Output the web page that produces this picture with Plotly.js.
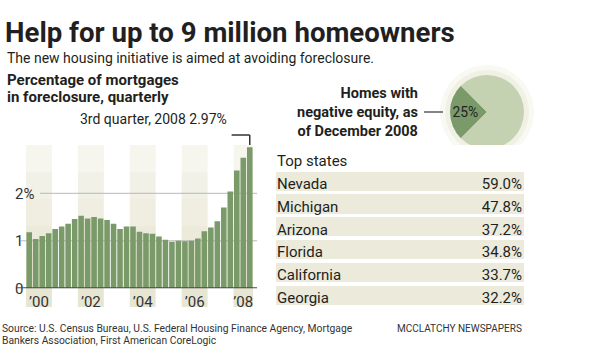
<!DOCTYPE html>
<html><head><meta charset="utf-8">
<script src="https://cdn.plot.ly/plotly-3.0.1.min.js"></script>
<style>html,body{margin:0;padding:0;background:#fff}#chart{width:600px;height:362px}</style>
</head><body><div id="chart"></div>
<script>
// ---- data ----
const quarterLabels = [
  '2000 Q1','2000 Q2','2000 Q3','2000 Q4',
  '2001 Q1','2001 Q2','2001 Q3','2001 Q4',
  '2002 Q1','2002 Q2','2002 Q3','2002 Q4',
  '2003 Q1','2003 Q2','2003 Q3','2003 Q4',
  '2004 Q1','2004 Q2','2004 Q3','2004 Q4',
  '2005 Q1','2005 Q2','2005 Q3','2005 Q4',
  '2006 Q1','2006 Q2','2006 Q3','2006 Q4',
  '2007 Q1','2007 Q2','2007 Q3','2007 Q4',
  '2008 Q1','2008 Q2','2008 Q3'
];
const foreclosurePct = [
  1.18,1.04,1.10,1.16,
  1.25,1.30,1.36,1.46,
  1.53,1.47,1.50,1.47,
  1.44,1.36,1.25,1.30,
  1.30,1.19,1.16,1.15,
  1.09,1.02,0.98,1.00,
  0.99,1.00,1.05,1.20,
  1.28,1.41,1.70,2.04,
  2.48,2.75,2.97
];
const tickYears = [2000,2002,2004,2006,2008];
const yearTickLabels = ['\u201900','\u201902','\u201904','\u201906','\u201908'];
const yTickVals = [0,1,2];
const yTickText = ['0','1','2%'];

const pieLabels = ['Negative equity','Other homes'];
const pieValues = [25,75];

const states = ['Nevada','Michigan','Arizona','Florida','California','Georgia'];
const statePct = [59.0,47.8,37.2,34.8,33.7,32.2];

// ---- helpers ----
const W=600,H=362;
const px = x => x/W, py = y => 1 - y/H;
const FONT = 'Roboto, "Open Sans", sans-serif';
const INK = '#231f20';
const GREEN = '#7a9a6a';

const idx = quarterLabels.map((_,i)=>i);
const yearOf = quarterLabels.map(q => +q.slice(0,4));
const yearIdx = y => idx.filter(i => yearOf[i] === y);
const tickvals = tickYears.map(y => { const a = yearIdx(y); return (a[0]+a[a.length-1])/2; });
const last = foreclosurePct.length - 1;
const lastQ = quarterLabels[last];
const ord = {'1':'1st','2':'2nd','3':'3rd','4':'4th'};
const calloutText = ord[lastQ.slice(-1)] + ' quarter, ' + lastQ.slice(0,4) + ' ' + foreclosurePct[last].toFixed(2) + '%';

// ---- shapes ----
const shapes = [];
const bandTop = 145, bandBot = 307, steps = 6;
const bandCols = ['#f6f5ee','#f2f1e7','#efeee1','#ecebdb','#e9e8d6','#e7e6d3'];
tickYears.forEach(y => {
  const a = yearIdx(y);
  for (let s=0;s<steps;s++){
    const t0 = bandTop + (bandBot-bandTop)*s/steps, t1 = bandTop + (bandBot-bandTop)*(s+1)/steps;
    shapes.push({type:'rect', xref:'x', yref:'paper', x0:a[0]-0.5, x1:a[a.length-1]+0.5,
      y0:py(t1), y1:py(t0), fillcolor:bandCols[s], line:{width:0}, layer:'below'});
  }
});
// gridlines
shapes.push({type:'line', xref:'x', yref:'y', x0:-1.3, x1:35.116, y0:1, y1:1, line:{color:'#b8b8b8', width:1}, layer:'below'});
shapes.push({type:'line', xref:'x', yref:'y', x0:1.66, x1:35.116, y0:2, y1:2, line:{color:'#b8b8b8', width:1}, layer:'below'});
// baseline
shapes.push({type:'line', xref:'x', yref:'y', x0:-1.9, x1:35.116, y0:0, y1:0, line:{color:'#4a4a4a', width:2}, layer:'above'});
// callout bracket
shapes.push({type:'line', xref:'x', yref:'paper', x0:last-2.8, x1:last, y0:py(135), y1:py(135), line:{color:'#333', width:1.5}});
shapes.push({type:'line', xref:'x', yref:'paper', x0:last, x1:last, y0:py(135), y1:py(145), line:{color:'#333', width:1.5}});
// pie halo
const pcx=487, pcy=112, pr=37;
[[10,'#f9f9f3'],[5,'#f1f0e4']].forEach(([d,c]) => shapes.push({type:'circle', xref:'paper', yref:'paper',
  x0:px(pcx-pr-d), x1:px(pcx+pr+d), y0:py(pcy+pr+d), y1:py(pcy-pr-d), fillcolor:c, line:{width:0}, layer:'below'}));
// pie leader
shapes.push({type:'line', xref:'paper', yref:'paper', x0:px(424), x1:px(443), y0:py(112), y1:py(112), line:{color:'#333', width:1.2}});

// ---- annotations ----
const ann = (text, x, y, size, opts={}) => Object.assign({text, x:px(x), y:py(y), xref:'paper', yref:'paper',
  xanchor:'left', yanchor:'middle', showarrow:false, font:{family:FONT, size, color:INK}}, opts);
const annotations = [
  ann('The new housing initiative is aimed at avoiding foreclosure.', 5, 57.5, 14),
  ann('<b>Percentage of mortgages</b>', 5, 80, 15),
  ann('<b>in foreclosure, quarterly</b>', 5, 97, 15),
  ann(calloutText, 229, 118.5, 14, {xanchor:'right'}),
  ann('<b>Homes with<br>negative equity, as<br>of December 2008</b>', 420, 112, 14.5, {xanchor:'right', align:'right'}),
  ann('Source: U.S. Census Bureau, U.S. Federal Housing Finance Agency, Mortgage', 0, 328.3, 10.3, {font:{family:FONT, size:10.3, color:'#333'}}),
  ann('Bankers Association, First American CoreLogic', 0, 340.5, 10.3, {font:{family:FONT, size:10.3, color:'#333'}}),
  ann('MCCLATCHY NEWSPAPERS', 524, 328.3, 10, {xanchor:'right', font:{family:FONT, size:10, color:'#333'}})
];

// ---- traces ----
const bars = {type:'bar', x:idx, y:foreclosurePct, xaxis:'x', yaxis:'y',
  marker:{color:GREEN, line:{width:0}}, hoverinfo:'skip', showlegend:false};

const pie = {type:'pie', labels:pieLabels, values:pieValues, sort:false, direction:'clockwise', rotation:225,
  marker:{colors:[GREEN,'#c5d2b2'], line:{width:0}}, texttemplate:['%{value}%',''], textposition:'inside',
  insidetextorientation:'horizontal', textfont:{family:FONT, size:15, color:INK},
  domain:{x:[px(pcx-pr), px(pcx+pr)], y:[py(pcy+pr), py(pcy-pr)]}, hoverinfo:'skip', showlegend:false};

const rowH = 22.8, tableTop = 147;
const tableFill = {type:'table', domain:{x:[px(274.5), px(525.5)], y:[0.12, py(tableTop)]},
  columnwidth:[1],
  header:{values:[''], height:rowH, fill:{color:'#ffffff'}, line:{color:'#ffffff', width:3.5}},
  cells:{values:[states.map(()=>'')], height:rowH, fill:{color:'#ebeadb'}, line:{color:'#ffffff', width:3.5}}};
const tableText = {type:'table', domain:{x:[px(269), px(530)], y:[0.12, py(tableTop)]},
  columnwidth:[1,1],
  header:{values:['Top states',''], align:['left','right'], height:rowH, fill:{color:'rgba(0,0,0,0)'}, line:{width:0},
    font:{family:FONT, size:15, color:INK}},
  cells:{values:[states, statePct.map(v=>v.toFixed(1)+'%')], align:['left','right'], height:rowH,
    fill:{color:'rgba(0,0,0,0)'}, line:{width:0}, font:{family:FONT, size:15, color:INK}}};

const layout = {
  width:W, height:H, margin:{l:0,r:0,t:0,b:0}, paper_bgcolor:'#ffffff', plot_bgcolor:'rgba(0,0,0,0)',
  showlegend:false, bargap:0.14,
  title:{text:'<b>Help for up to 9 million homeowners</b>', x:px(5), xref:'paper', xanchor:'left',
    y:py(32), yref:'paper', yanchor:'middle', font:{family:FONT, size:27.6, color:INK}},
  xaxis:{domain:[px(12), px(257)], range:[-2.657, 35.116], tickmode:'array', tickvals:tickvals, ticktext:yearTickLabels,
    tickfont:{family:FONT, size:15, color:'#333'}, ticklabelstandoff:3,
    showgrid:false, zeroline:false, showline:false, ticks:'', fixedrange:true},
  yaxis:{domain:[py(288.3), py(145.8)], range:[0,3], tickmode:'array', tickvals:yTickVals, ticktext:yTickText,
    ticklabelposition:'inside', ticklabeloverflow:'allow', tickfont:{family:FONT, size:15, color:'#333'},
    showgrid:false, zeroline:false, showline:false, ticks:'', fixedrange:true},
  shapes, annotations
};
Plotly.newPlot('chart', [bars, pie, tableFill, tableText], layout, {staticPlot:true, displayModeBar:false});
</script></body></html>
